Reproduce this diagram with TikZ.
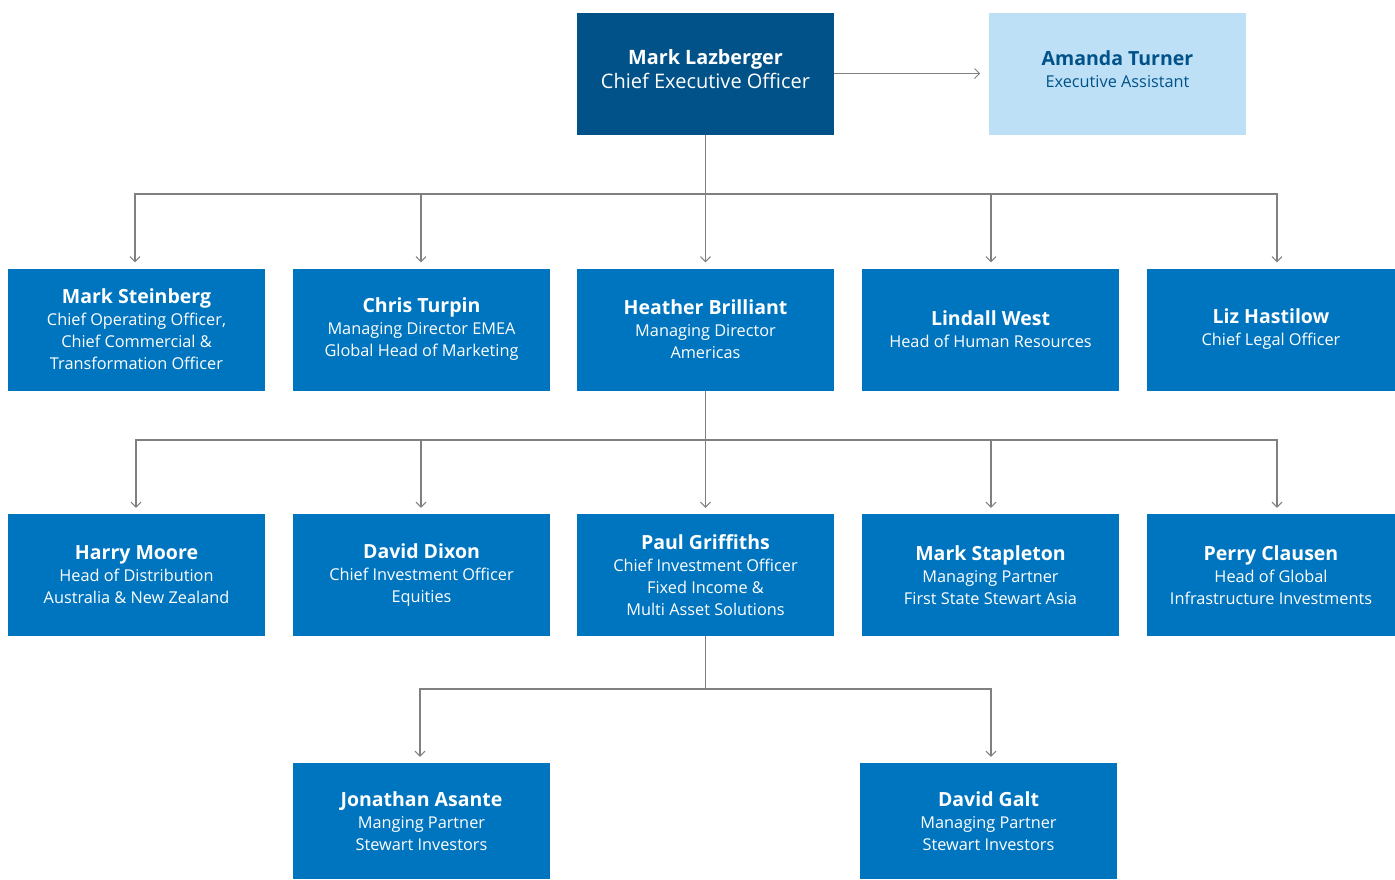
\documentclass[tikz,border=0pt]{standalone}
\usepackage{fontspec}
\setmainfont{Open Sans}
\usetikzlibrary{arrows.meta}
\definecolor{boxblue}{RGB}{0,117,191}
\definecolor{ceoblue}{RGB}{0,82,136}
\definecolor{lightblue}{RGB}{189,224,246}
\definecolor{linegray}{RGB}{128,128,128}
\newcommand{\nm}[1]{{\fontsize{19.5}{22}\selectfont\bfseries #1}}
\newcommand{\lowstrut}{\rule[-9pt]{0pt}{9pt}}
\tikzset{
  box/.style={fill=boxblue, text=white, align=center, inner sep=0pt,
    minimum width=257pt, minimum height=122pt, font=\fontsize{16.3}{22}\selectfont},
  conn/.style={draw=linegray, line width=1.2pt},
  arr/.style={conn, -{Straight Barb[length=5pt,width=10pt,line width=1pt]}}
}
\begin{document}
\begin{tikzpicture}[x=1pt,y=-1pt]
\useasboundingbox (0,0) rectangle (1395,879);
% top
\node[box, fill=ceoblue, font=\fontsize{20}{24}\selectfont] (ceo) at (705.5,73.5) {{\fontsize{19.8}{24}\selectfont\bfseries Mark Lazberger}\\Chief Executive Officer\lowstrut};
\node[box, fill=lightblue, text=ceoblue] (amanda) at (1117.5,73.5) {\nm{Amanda Turner}\\Executive Assistant\lowstrut};
% row 2
\node[box] (ms) at (136.5,329.5) {\nm{Mark Steinberg}\\Chief Operating Officer,\\Chief Commercial \&\\Transformation Officer};
\node[box] (ct) at (421.5,329.5) {\nm{Chris Turpin}\\Managing Director EMEA\\Global Head of Marketing};
\node[box] (hb) at (705.5,329.5) {\nm{Heather Brilliant}\\Managing Director\\Americas};
\node[box] (lw) at (990.5,329.5) {\nm{Lindall West}\\Head of Human Resources};
\node[box, minimum width=248pt] (lh) at (1271,329.5) {\nm{Liz Hastilow}\\Chief Legal Officer};
% row 3
\node[box] (hm) at (136.5,575) {\nm{Harry Moore}\\Head of Distribution\\Australia \& New Zealand};
\node[box] (dd) at (421.5,575) {\nm{David Dixon}\\Chief Investment Officer\\Equities};
\node[box] (pg) at (705.5,575) {\nm{Paul Griffiths}\\Chief Investment Officer\\Fixed Income \&\\Multi Asset Solutions};
\node[box] (mst) at (990.5,575) {\nm{Mark Stapleton}\\Managing Partner\\First State Stewart Asia};
\node[box, minimum width=248pt] (pc) at (1271,575) {\nm{Perry Clausen}\\Head of Global\\Infrastructure Investments};
% row 4
\node[box, minimum height=116pt] (ja) at (421.5,821) {\nm{Jonathan Asante}\\Manging Partner\\Stewart Investors};
\node[box, minimum height=116pt] (dg) at (988.5,821) {\nm{David Galt}\\Managing Partner\\Stewart Investors};
% coordinates
\coordinate (b1) at (705.5,194);
\coordinate (b2) at (705.5,440);
\coordinate (b3) at (705.5,689);
% connectors
\draw[arr] (ceo.east) -- ++(146,0);
\draw[conn] (ceo.south) -- (b1);
\foreach \t/\x in {ms/135, ct/421, lw/991, lh/1277}{
  \draw[arr] (b1) -| ([yshift=6pt]\t.north -| \x,0);
}
\draw[arr] (b1) -- ([yshift=6pt]hb.north);
\draw[conn] (hb.south) -- (b2);
\foreach \t/\x in {hm/136, dd/421, mst/991, pc/1277}{
  \draw[arr] (b2) -| ([yshift=6pt]\t.north -| \x,0);
}
\draw[arr] (b2) -- ([yshift=6pt]pg.north);
\draw[conn] (pg.south) -- (b3);
\foreach \t/\x in {ja/420, dg/991}{
  \draw[arr] (b3) -| ([yshift=6pt]\t.north -| \x,0);
}
\end{tikzpicture}
\end{document}
